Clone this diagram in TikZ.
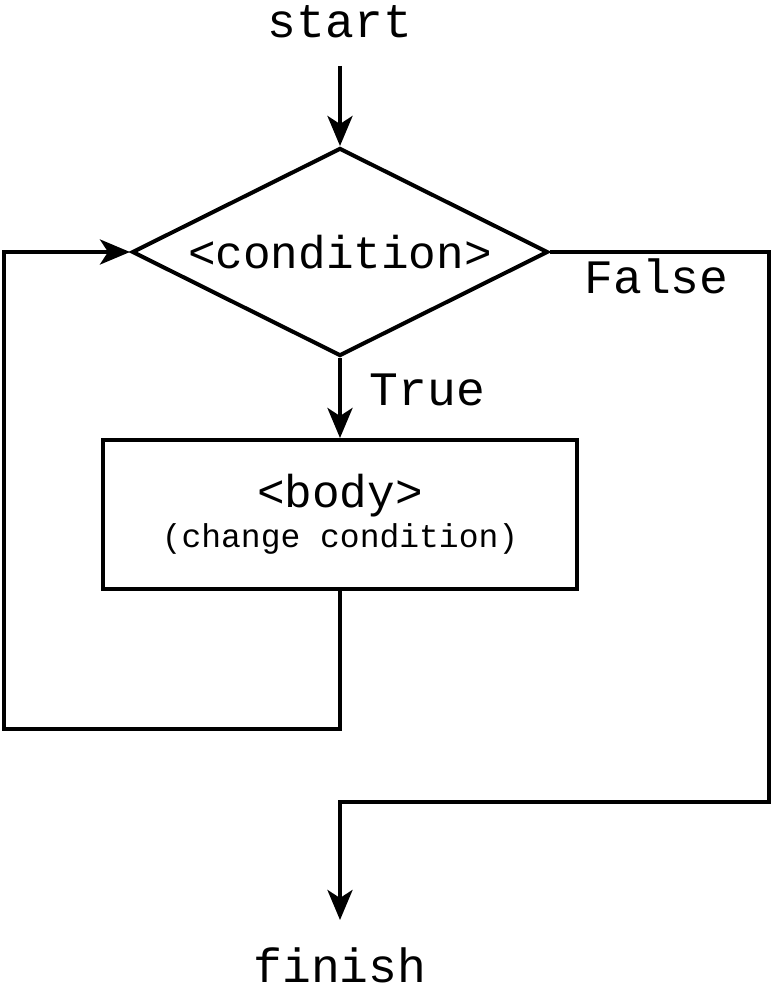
\documentclass[tikz,border=0pt]{standalone}
\usepackage{fontspec}
\setmonofont{Liberation Mono}
\usetikzlibrary{arrows.meta,shapes.geometric}
\tikzset{
  lbl/.style={font=\ttfamily\fontsize{48}{48}\selectfont, inner sep=0pt, anchor=base},
  flow/.style={line width=4pt, draw=black},
  arr/.style={flow, -{Stealth[length=30pt,width=25pt,inset=8pt]}},
  decision/.style={flow, diamond, aspect=2, minimum width=416pt, minimum height=208pt, inner sep=0pt,
    font=\ttfamily\fontsize{46}{46}\selectfont},
  process/.style={flow, rectangle, minimum width=474pt, minimum height=149pt, inner sep=0pt, align=center,
    font=\ttfamily}
}
\begin{document}
\begin{tikzpicture}[x=1pt,y=-1pt]
\useasboundingbox (0,0) rectangle (771,1003);
\node[lbl] (start) at (340,38) {start};
\node[lbl] (finish) at (340,982) {finish};
\node[decision] (cond) at (340,252) {<condition>};
\node[process] (body) at (340,514.5) {\fontsize{46}{41}\selectfont <body>\\[6pt]\fontsize{33}{41}\selectfont (change condition)};
\node[lbl] (true) at (427.5,405) {True};
\node[lbl] (false) at (656.5,293) {False};
\coordinate (starttail) at (340,66);
\coordinate (finhead) at (340,920);
\coordinate (loopbl) at (4,729);
\coordinate (falsebr) at (769,802);
\draw[arr] (starttail) -- (cond.north);
\draw[arr] (cond.south) -- (body.north);
\draw[arr] (body.south) |- (loopbl) |- (cond.west);
\draw[arr] (cond.east) -| (falsebr) -| (finhead);
\end{tikzpicture}
\end{document}
